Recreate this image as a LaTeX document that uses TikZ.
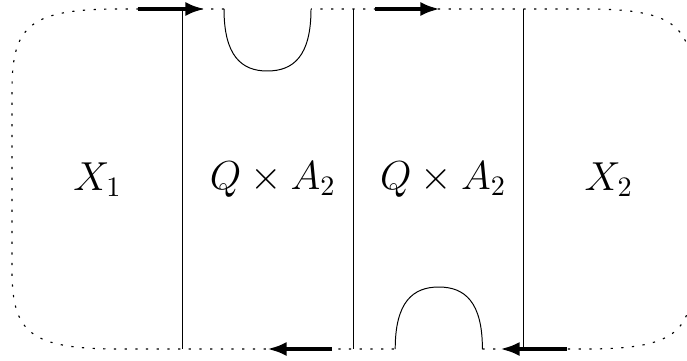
\documentclass[tikz,border=0pt]{standalone}
\usepackage{amssymb,amsmath}
\usepackage{tikz}
\usetikzlibrary{arrows.meta}

\begin{document}
\begin{tikzpicture}[>={Latex[length=7pt,width=5pt]}, font=\Large,
		bdry/.style={dash pattern=on 0.8pt off 3pt},
		wall/.style={line width=0.35pt},
		orient/.style={->, line width=1.4pt}]
	\def\yt{4.3875}\def\yb{0.1375}
	\clip (0,0) rectangle (8.5875,4.5);
	% ---------------- dotted outer boundary ----------------
	\draw[bdry] (2.8,\yt) -- (1.5,\yt) .. controls (0.375,\yt) and (0.15,4.1875) .. (0.15,3.375)
		-- (0.15,1.125) .. controls (0.15,0.3375) and (0.375,\yb) .. (1.5,\yb) -- (4.94,\yb);
	\draw[bdry] (6.03,\yb) -- (7.3125,\yb) .. controls (8.4375,\yb) and (8.6625,0.3375) .. (8.6625,1.125)
		-- (8.6625,3.375) .. controls (8.6625,4.1875) and (8.4375,\yt) .. (7.3125,\yt) -- (3.8875,\yt);
	% ---------------- walls ----------------
	\foreach \xw in {2.275,4.4125,6.5375}
		\draw[wall] (\xw,\yt) -- (\xw,\yb);
	% cup on top, cap at the bottom
	\draw[wall] (2.8,\yt) .. controls (2.8,3.8) and (3.02,3.6125) .. (3.34,3.6125)
		.. controls (3.67,3.6125) and (3.8875,3.8) .. (3.8875,\yt);
	\draw[wall] (4.94,\yb) .. controls (4.94,0.725) and (5.16,0.9125) .. (5.485,0.9125)
		.. controls (5.81,0.9125) and (6.03,0.725) .. (6.03,\yb);
	% ---------------- orientation arrows ----------------
	\coordinate (t1a) at (1.72,\yt);   \coordinate (t1b) at (2.5625,\yt);
	\coordinate (t2a) at (4.6875,\yt); \coordinate (t2b) at (5.5,\yt);
	\coordinate (b1a) at (4.15,\yb);   \coordinate (b1b) at (3.3375,\yb);
	\coordinate (b2a) at (7.0875,\yb); \coordinate (b2b) at (6.25,\yb);
	\draw[orient] (t1a) -- (t1b);
	\draw[orient] (t2a) -- (t2b);
	\draw[orient] (b1a) -- (b1b);
	\draw[orient] (b2a) -- (b2b);
	% ---------------- labels ----------------
	\node (x1) at (1.22,2.25) {$X_1$};
	\node (qa1) at (3.41,2.25) {$Q\times A_2$};
	\node (qa2) at (5.54,2.25) {$Q\times A_2$};
	\node (x2) at (7.61,2.25) {$X_2$};
\end{tikzpicture}
\end{document}
